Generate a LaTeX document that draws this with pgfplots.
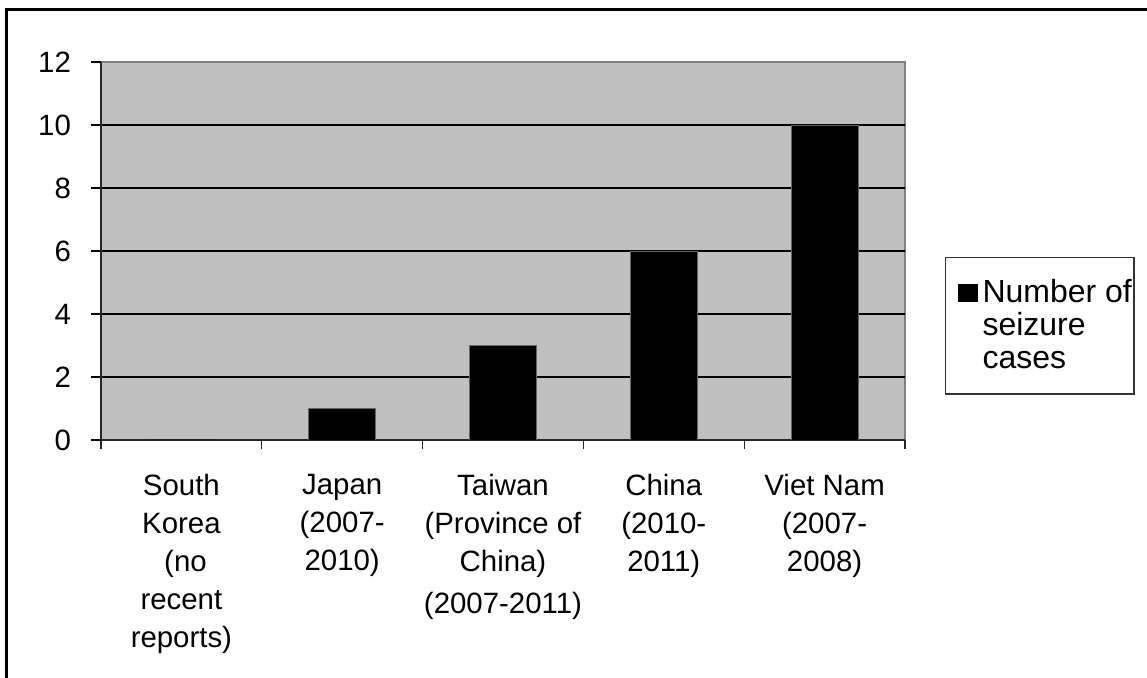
\documentclass[border=0pt]{standalone}
\usepackage{pgfplots}
\pgfplotsset{compat=1.18}
\usepackage{fontspec}
\setmainfont{Liberation Sans}
\definecolor{plotgray}{HTML}{C0C0C0}
\begin{document}
\begin{tikzpicture}[x=1pt,y=1pt]
\useasboundingbox (0,0) rectangle (573.5,339);
\draw[line width=1.5pt] (3.25,-5) -- (3.25,334.15) -- (580,334.15);
\begin{axis}[
  at={(50.5pt,119pt)}, anchor=south west,
  scale only axis, width=402pt, height=189pt,
  xmin=-0.5, xmax=4.5, ymin=0, ymax=12,
  ybar, bar width=33.5pt,
  axis background/.style={fill=plotgray, draw=black!50, line width=0.8pt},
  axis x line*=bottom, axis y line*=left,
  axis line style={black!85, line width=0.8pt},
  tick align=outside,
  xtick={0,...,4},
  major x tick style={draw=none},
  minor xtick={-0.5,0.5,...,4.5},
  minor tick length=4.5pt,
  minor x tick style={black!85, line width=0.6pt},
  ytick={0,2,...,10},
  extra y ticks={12},
  extra y tick style={grid=none},
  major tick length=5pt,
  y tick style={black, line width=0.6pt},
  ymajorgrids,
  grid style={black, line width=0.6pt},
  /pgf/number format/assume math mode=true,
  tick label style={font=\fontsize{14.7}{19}\selectfont},
  yticklabel style={xshift=-6.5pt},
  xticklabel style={align=center, anchor=north, yshift=-8.5pt},
  xticklabels={{South\\Korea\\\ (no\\recent\\reports)},{Japan\\(2007-\\2010)},{Taiwan\\(Province of\\China)\\[2pt](2007-2011)},{China\\(2010-\\2011)},{Viet Nam\\(2007-\\2008)}},
  legend style={at={(1.0498,0.484)}, anchor=north west, draw=black!80, line width=0.7pt,
    font=\fontsize{16}{16.5}\selectfont, nodes={align=left, inner xsep=2.2pt},
    inner xsep=6pt, inner ysep=9pt},
  legend cell align=left,
  legend image code/.code={\fill[black] (1.5pt,12.5pt) rectangle (11pt,20.5pt);},
]
\addplot[fill=black, draw=black!60] coordinates {(0,0) (1,1) (2,3) (3,6) (4,10)};
\addlegendentry{\makebox[67.5pt][l]{Number of}\\seizure\\cases}
\end{axis}
\end{tikzpicture}
\end{document}
